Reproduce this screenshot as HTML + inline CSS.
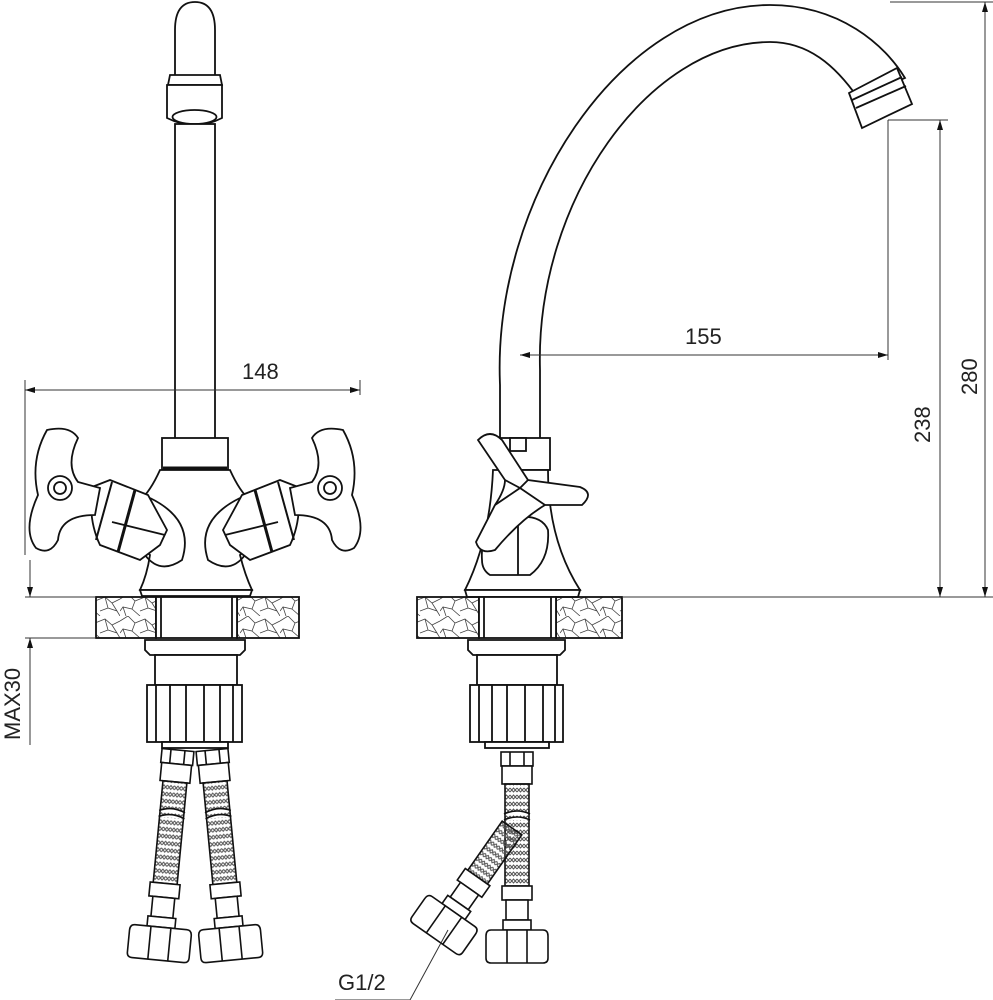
<!DOCTYPE html>
<html><head><meta charset="utf-8"><style>
html,body{margin:0;padding:0;background:#fff}
svg{display:block}
text{font-family:"Liberation Sans",sans-serif;font-size:22px;fill:#222}
</style></head><body>
<svg width="993" height="1000" viewBox="0 0 993 1000" xmlns="http://www.w3.org/2000/svg">
<defs>
<pattern id="stone" width="40" height="22" patternUnits="userSpaceOnUse">
<path d="M0,5 L8,0 M8,0 L15,7 L25,3 L32,9 L40,5 M15,7 L12,15 L3,13 L0,17 M12,15 L20,22 M25,3 L28,14 L20,17 M28,14 L37,17 L40,22 M32,9 L37,17 M3,13 L6,22" stroke="#444" stroke-width="0.8" fill="none"/>
</pattern>
<pattern id="braid" width="7" height="7" patternUnits="userSpaceOnUse">
<path d="M0,1 L3.5,5 L7,1 M0,5 L3.5,1 L7,5" stroke="#555" stroke-width="1" fill="none"/>
</pattern>
<g id="hose" stroke="#111" stroke-width="1.6" fill="#fff">
<rect x="-16" y="0" width="32" height="14"/>
<line x1="-7" y1="0" x2="-7" y2="14"/><line x1="7" y1="0" x2="7" y2="14"/>
<rect x="-15" y="14" width="30" height="18"/>
<rect x="-12" y="32" width="24" height="102" fill="url(#braid)"/>
<path d="M-13,62 Q0,56 13,62 M-13,68 Q0,62 13,68" fill="#fff"/>
<rect x="-15" y="134" width="30" height="14"/>
<rect x="-11" y="148" width="22" height="20"/>
<rect x="-14" y="168" width="28" height="10"/>
<path d="M-26,178 L26,178 Q31,178 31,184 L31,206 Q31,211 26,211 L-26,211 Q-31,211 -31,206 L-31,184 Q-31,178 -26,178Z"/>
<line x1="-10" y1="178" x2="-10" y2="211"/><line x1="10" y1="178" x2="10" y2="211"/>
</g>
</defs>
<g stroke="#111" stroke-width="1.8" fill="#fff">
<!-- LEFT VIEW -->
<path d="M175,75 L175,30 Q175,2 195,2 Q215,2 215,30 L215,75"/>
<path d="M170,75 L220,75 L222,85 L168,85 Z"/>
<path d="M167,85 L222,85 L222,118 Q195,132 167,118 Z"/>
<ellipse cx="194.5" cy="117" rx="22" ry="7"/>
<rect x="175" y="124" width="40" height="316"/>
<rect x="162" y="438" width="66" height="32"/>
<line x1="163" y1="468" x2="227" y2="468" stroke-width="3"/>
<path d="M160,470 L230,470 Q240,492 250,500 Q265,530 240,555 Q245,575 252,590 L140,590 Q147,575 150,555 Q125,530 140,500 Q150,492 160,470 Z"/>
<path d="M150,498 Q195,520 182,560 Q160,575 145,555 M240,498 Q195,520 208,560 Q230,575 245,555" fill="none"/>
<path d="M140,590 L252,590 L250,596 L142,596Z"/>
<!-- left handle -->
<path d="M92,487 L110,480 L148,495 L167,530 L160,545 L140,560 L100,545 Q88,520 92,487 Z"/>
<line x1="112" y1="482" x2="96" y2="540" stroke-width="2"/>
<line x1="135" y1="490" x2="118" y2="552" stroke-width="3"/>
<line x1="112" y1="522" x2="165" y2="535"/>
<path d="M47,430 Q70,425 78,438 Q65,465 78,482 L100,488 L95,515 Q60,515 58,540 Q50,556 36,548 Q22,530 38,495 Q30,460 47,430Z"/>
<circle cx="60" cy="488" r="12"/><circle cx="60" cy="488" r="6"/>
<!-- right handle -->
<path d="M298,487 L280,480 L242,495 L223,530 L230,545 L250,560 L290,545 Q302,520 298,487 Z"/>
<line x1="278" y1="482" x2="294" y2="540" stroke-width="2"/>
<line x1="255" y1="490" x2="272" y2="552" stroke-width="3"/>
<line x1="278" y1="522" x2="225" y2="535"/>
<path d="M343,430 Q320,425 312,438 Q325,465 312,482 L290,488 L295,515 Q330,515 332,540 Q340,556 354,548 Q368,530 352,495 Q360,460 343,430Z"/>
<circle cx="330" cy="488" r="12"/><circle cx="330" cy="488" r="6"/>
<!-- deck left -->
<rect x="96" y="597" width="60" height="41" fill="url(#stone)"/>
<rect x="237" y="597" width="62" height="41" fill="url(#stone)"/>
<rect x="156" y="597" width="81" height="41"/>
<line x1="161" y1="597" x2="161" y2="638"/><line x1="232" y1="597" x2="232" y2="638"/>
<path d="M145,640 L245,640 L245,650 L240,655 L150,655 L145,650Z"/>
<rect x="155" y="655" width="82" height="30"/>
<rect x="147" y="685" width="95" height="57"/>
<path d="M156,685 V742 M170,685 V742 M186,685 V742 M204,685 V742 M220,685 V742 M233,685 V742" fill="none"/>
<rect x="162" y="742" width="66" height="6"/>
<!-- RIGHT VIEW -->
<path d="M500,440 L500,385 C492,200 620,5 770,5 C840,5 885,45 905,78 L858,98 C835,65 808,42 770,42 C650,42 535,200 540,370 L540,440" />
<path d="M849,93 L897,68 L912,104 L862,128 Z"/>
<path d="M852,100 L902,77 M856,108 L906,86"/>
<rect x="498" y="438" width="52" height="32"/>
<rect x="510" y="438" width="16" height="13"/>
<path d="M493,470 L548,470 Q548,540 580,590 L465,590 Q490,540 493,470Z"/>
<path d="M482,560 Q480,530 500,520 Q540,510 548,530 Q550,560 530,575 L490,575 Q482,570 482,560Z"/>
<line x1="518" y1="520" x2="518" y2="575"/>
<path d="M465,590 L580,590 L578,597 L467,597Z"/>
<!-- cross handle -->
<path d="M478,440 Q490,428 502,440 L528,480 L580,487 Q595,493 582,505 L545,505 Q520,520 495,550 Q480,555 476,542 L495,505 Q505,490 505,480 Z"/>
<path d="M495,505 L520,488 L528,480 M520,488 L545,505 M505,480 L520,488" fill="none"/>
<!-- deck right -->
<rect x="417" y="597" width="62" height="41" fill="url(#stone)"/>
<rect x="556" y="597" width="66" height="41" fill="url(#stone)"/>
<rect x="479" y="597" width="77" height="41"/>
<line x1="484" y1="597" x2="484" y2="638"/><line x1="551" y1="597" x2="551" y2="638"/>
<path d="M468,640 L565,640 L565,650 L560,655 L473,655 L468,650Z"/>
<rect x="477" y="655" width="80" height="30"/>
<rect x="470" y="685" width="93" height="57"/>
<path d="M479,685 V742 M492,685 V742 M507,685 V742 M525,685 V742 M543,685 V742 M555,685 V742" fill="none"/>
<rect x="485" y="742" width="64" height="6"/>
</g>
<!-- hoses -->
<use href="#hose" transform="translate(178,750) rotate(5.5)"/>
<use href="#hose" transform="translate(212,750) rotate(-5.5)"/>
<use href="#hose" transform="translate(517,752)"/>
<g transform="translate(512,828) rotate(35)">
<g stroke="#111" stroke-width="1.6" fill="#fff">
<rect x="-12" y="0" width="24" height="60" fill="url(#braid)"/>
<rect x="-15" y="60" width="30" height="14"/>
<rect x="-11" y="74" width="22" height="18"/>
<rect x="-14" y="92" width="28" height="10"/>
<path d="M-26,102 L26,102 Q31,102 31,108 L31,130 Q31,135 26,135 L-26,135 Q-31,135 -31,130 L-31,108 Q-31,102 -26,102Z"/>
<line x1="-10" y1="102" x2="-10" y2="135"/><line x1="10" y1="102" x2="10" y2="135"/>
</g></g>
<!-- dimension lines -->
<g stroke="#333" stroke-width="1" fill="none">
<line x1="25" y1="380" x2="25" y2="555"/><line x1="360" y1="380" x2="360" y2="395"/>
<line x1="25" y1="390" x2="360" y2="390"/>
<line x1="25" y1="597" x2="96" y2="597"/><line x1="25" y1="638" x2="96" y2="638"/>
<line x1="30" y1="560" x2="30" y2="597"/><line x1="30" y1="638" x2="30" y2="745"/>
<line x1="622" y1="597" x2="993" y2="597"/>
<line x1="520" y1="355" x2="888" y2="355"/>
<line x1="888" y1="120" x2="888" y2="360"/>
<line x1="888" y1="120" x2="948" y2="120"/>
<line x1="890" y1="2" x2="993" y2="2"/>
<line x1="940" y1="120" x2="940" y2="597"/>
<line x1="985" y1="2" x2="985" y2="597"/>
<path d="M335,1000 L410,1000 L448,930"/>
</g>
<g fill="#111">
<path d="M25,390 l10,-3 v6z"/><path d="M360,390 l-10,-3 v6z"/>
<path d="M30,597 l-3,-10 h6z"/><path d="M30,638 l-3,10 h6z"/>
<path d="M520,355 l10,-3 v6z"/><path d="M888,355 l-10,-3 v6z"/>
<path d="M940,120 l-3,10 h6z"/><path d="M940,597 l-3,-10 h6z"/>
<path d="M985,2 l-3,10 h6z"/><path d="M985,597 l-3,-10 h6z"/>
</g>
<text x="242" y="379">148</text>
<text x="685" y="344">155</text>
<text x="338" y="990">G1/2</text>
<text transform="translate(930,443) rotate(-90)">238</text>
<text transform="translate(977,395) rotate(-90)">280</text>
<text transform="translate(20,740) rotate(-90)">MAX30</text>
</svg>
</body></html>
